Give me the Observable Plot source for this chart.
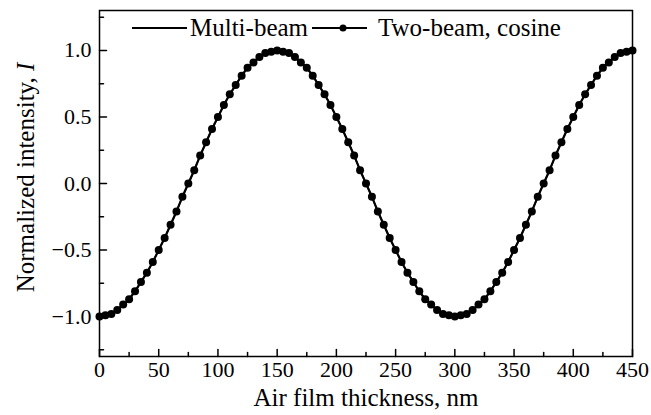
<!DOCTYPE html>
<html>
<head>
<meta charset="utf-8">
<script src="https://cdn.jsdelivr.net/npm/d3@7"></script>
<script src="https://cdn.jsdelivr.net/npm/@observablehq/plot@0.6"></script>
<style>
  html, body { margin: 0; padding: 0; background: #fff; }
  #wrap { position: relative; width: 651px; height: 415px; font-family: "Liberation Serif", "Times New Roman", serif; }
  #legend { position: absolute; left: 132px; top: 13px; display: flex; align-items: center; font-size: 25px; line-height: 30px; color: #000; white-space: nowrap; }
  #legend svg { display: block; }
</style>
</head>
<body>
<div id="wrap"></div>
<script>
// Air film thickness (nm)
const thickness = [0,5,10,15,20,25,30,35,40,45,50,55,60,65,70,75,80,85,90,95,100,105,110,115,120,125,130,135,140,145,150,155,160,165,170,175,180,185,190,195,200,205,210,215,220,225,230,235,240,245,250,255,260,265,270,275,280,285,290,295,300,305,310,315,320,325,330,335,340,345,350,355,360,365,370,375,380,385,390,395,400,405,410,415,420,425,430,435,440,445,450];
// Multi-beam normalized intensity
const multiBeam = [-1.00,-0.99,-0.98,-0.95,-0.91,-0.87,-0.81,-0.74,-0.67,-0.59,-0.50,-0.41,-0.31,-0.21,-0.10,0.00,0.10,0.21,0.31,0.41,0.50,0.59,0.67,0.74,0.81,0.87,0.91,0.95,0.98,0.99,1.00,0.99,0.98,0.95,0.91,0.87,0.81,0.74,0.67,0.59,0.50,0.41,0.31,0.21,0.10,0.00,-0.10,-0.21,-0.31,-0.41,-0.50,-0.59,-0.67,-0.74,-0.81,-0.87,-0.91,-0.95,-0.98,-0.99,-1.00,-0.99,-0.98,-0.95,-0.91,-0.87,-0.81,-0.74,-0.67,-0.59,-0.50,-0.41,-0.31,-0.21,-0.10,0.00,0.10,0.21,0.31,0.41,0.50,0.59,0.67,0.74,0.81,0.87,0.91,0.95,0.98,0.99,1.00];
// Two-beam, cosine normalized intensity
const twoBeam = [-1.00,-0.99,-0.98,-0.95,-0.91,-0.87,-0.81,-0.74,-0.67,-0.59,-0.50,-0.41,-0.31,-0.21,-0.10,0.00,0.10,0.21,0.31,0.41,0.50,0.59,0.67,0.74,0.81,0.87,0.91,0.95,0.98,0.99,1.00,0.99,0.98,0.95,0.91,0.87,0.81,0.74,0.67,0.59,0.50,0.41,0.31,0.21,0.10,0.00,-0.10,-0.21,-0.31,-0.41,-0.50,-0.59,-0.67,-0.74,-0.81,-0.87,-0.91,-0.95,-0.98,-0.99,-1.00,-0.99,-0.98,-0.95,-0.91,-0.87,-0.81,-0.74,-0.67,-0.59,-0.50,-0.41,-0.31,-0.21,-0.10,0.00,0.10,0.21,0.31,0.41,0.50,0.59,0.67,0.74,0.81,0.87,0.91,0.95,0.98,0.99,1.00];

const xMajor = [0,50,100,150,200,250,300,350,400,450];
const xMinor = [25,75,125,175,225,275,325,375,425];
const yMajor = [-1.0,-0.5,0.0,0.5,1.0];
const yMinor = [-1.25,-0.75,-0.25,0.25,0.75,1.25];
const seriesNames = ["Multi-beam", "Two-beam, cosine"];

const mb = thickness.map((t, i) => ({t, v: multiBeam[i]}));
const tb = thickness.map((t, i) => ({t, v: twoBeam[i]}));

const tickShape = { draw(ctx, l) { ctx.moveTo(0, 0); ctx.lineTo(0, -l); } };

const chart = Plot.plot({
  width: 651,
  height: 415,
  marginLeft: 99,
  marginRight: 19,
  marginTop: 10,
  marginBottom: 59,
  style: { fontFamily: '"Liberation Serif", "Times New Roman", serif', background: "#fff", color: "#000" },
  x: { domain: [0, 450] },
  y: { domain: [-1.3, 1.3] },
  marks: [
    Plot.axisX(xMajor, { tickSize: 0, tickPadding: 5, fontSize: 22, label: null }),
    Plot.axisY(yMajor, { tickSize: 0, tickPadding: 8, fontSize: 22, label: null, tickFormat: d3.format(".1f") }),
    Plot.vector(xMajor, { x: d => d, frameAnchor: "bottom", anchor: "start", length: 7, rotate: 0, shape: tickShape, stroke: "#000", strokeWidth: 1.5 }),
    Plot.vector(xMinor, { x: d => d, frameAnchor: "bottom", anchor: "start", length: 4, rotate: 0, shape: tickShape, stroke: "#000", strokeWidth: 1.5 }),
    Plot.vector(yMajor, { y: d => d, frameAnchor: "left", anchor: "start", length: 7, rotate: 90, shape: tickShape, stroke: "#000", strokeWidth: 1.5 }),
    Plot.vector(yMinor, { y: d => d, frameAnchor: "left", anchor: "start", length: 4, rotate: 90, shape: tickShape, stroke: "#000", strokeWidth: 1.5 }),
    Plot.line(tb, { x: "t", y: "v", stroke: "#000", strokeWidth: 1.5 }),
    Plot.dot(tb, { x: "t", y: "v", r: 4, fill: "#000", stroke: "none" }),
    Plot.line(mb, { x: "t", y: "v", stroke: "#000", strokeWidth: 2.2 }),
    Plot.frame({ stroke: "#000", strokeWidth: 1.5 }),
    Plot.text(["Air film thickness, nm"], { frameAnchor: "bottom", text: d => d, dy: 49, fontSize: 25, fill: "#000" }),
    Plot.text(["Normalized intensity, "], { frameAnchor: "left", text: d => d, dx: -74, dy: -6, rotate: -90, textAnchor: "middle", fontSize: 25, fill: "#000", className: "ylab" })
  ]
});

// italic I in the y label
d3.select(chart).selectAll(".ylab text").each(function() {
  const t = d3.select(this);
  t.text("Normalized intensity, ");
  t.append("tspan").attr("font-style", "italic").text("I");
});

const wrap = document.getElementById("wrap");
wrap.appendChild(chart);

// Legend
const legend = document.createElement("div");
legend.id = "legend";
function sample(withDot) {
  const ns = "http://www.w3.org/2000/svg";
  const s = document.createElementNS(ns, "svg");
  s.setAttribute("width", 55); s.setAttribute("height", 12);
  const l = document.createElementNS(ns, "line");
  l.setAttribute("x1", 0); l.setAttribute("x2", 55); l.setAttribute("y1", 6); l.setAttribute("y2", 6);
  l.setAttribute("stroke", "#000"); l.setAttribute("stroke-width", 2);
  s.appendChild(l);
  if (withDot) {
    const c = document.createElementNS(ns, "circle");
    c.setAttribute("cx", 31); c.setAttribute("cy", 6); c.setAttribute("r", 3.5); c.setAttribute("fill", "#000");
    s.appendChild(c);
  }
  return s;
}
const s1 = sample(false);
const t1 = document.createElement("span"); t1.textContent = seriesNames[0]; t1.style.margin = "0 4px 0 3px";
const s2 = sample(true);
const t2 = document.createElement("span"); t2.textContent = seriesNames[1]; t2.style.marginLeft = "11px";
legend.append(s1, t1, s2, t2);
wrap.appendChild(legend);
</script>
</body>
</html>
